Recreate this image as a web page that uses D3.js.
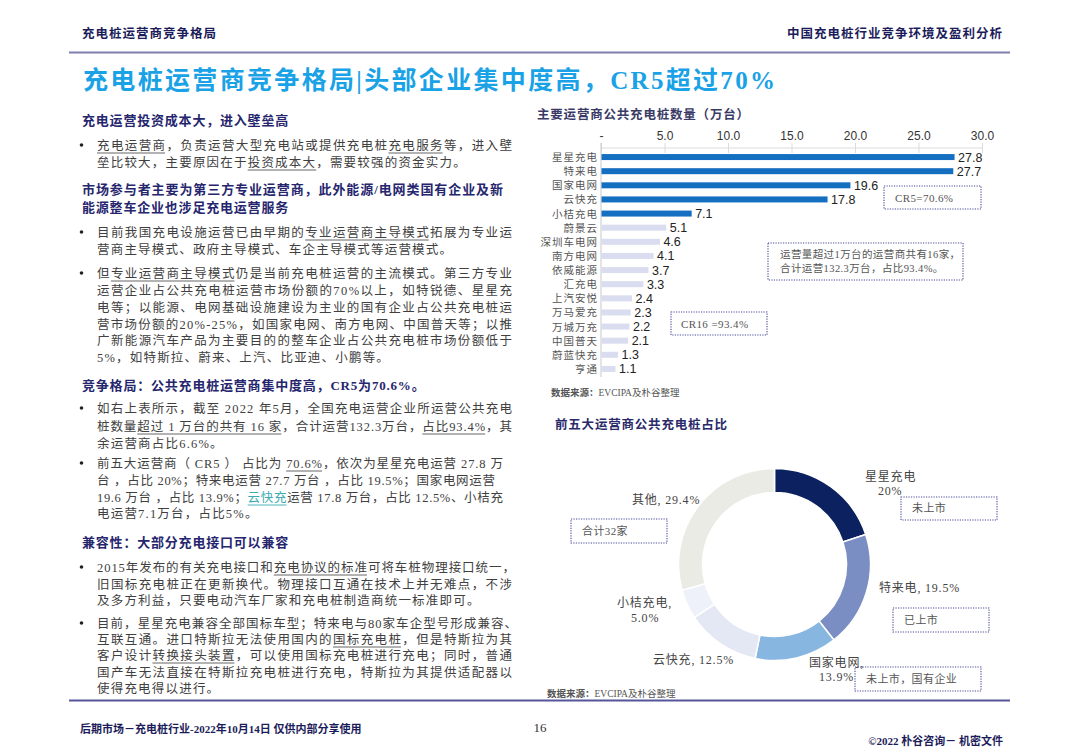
<!DOCTYPE html>
<html><head><meta charset="utf-8">
<script src="https://cdn.jsdelivr.net/npm/d3@7"></script>
<style>html,body{margin:0;padding:0;background:#fff}svg{display:block}</style>
</head><body>
<svg id="s" width="1080" height="748"></svg>
<script>
// ---------- data ----------
const categories = ["星星充电","特来电","国家电网","云快充","小桔充电","蔚景云","深圳车电网","南方电网","依威能源","汇充电","上汽安悦","万马爱充","万城万充","中国普天","蔚蓝快充","亨通"];
const values = [27.8,27.7,19.6,17.8,7.1,5.1,4.6,4.1,3.7,3.3,2.4,2.3,2.2,2.1,1.3,1.1];
const topCount = 5;
const xTicks = [0,5,10,15,20,25,30];
const xTickLabels = ["-","5.0","10.0","15.0","20.0","25.0","30.0"];
const pieNames = ["星星充电","特来电","国家电网","云快充","小桔充电","其他"];
const pieValues = [20,19.5,13.9,12.5,5.0,29.4];
const pieColors = ["#0b2160","#7b8ec3","#87b6e1","#e3e8f4","#eef1f9","#ebebe6"];

const SERIF = "'Liberation Serif','Noto Sans CJK SC',serif";
const CJK = "'Noto Sans CJK SC',sans-serif";
const SANS = "'Liberation Sans',Arial,sans-serif";
const NAVY = "#26266e";
const svg = d3.select("#s");

// ---------- header ----------
svg.append("text").attr("x",82).attr("y",38).text("充电桩运营商竞争格局")
  .attr("font-family",SERIF).attr("font-size",12.5).attr("font-weight","bold").attr("letter-spacing",1).attr("fill","#1c1c5a");
svg.append("text").attr("x",1003).attr("y",38).attr("text-anchor","end").text("中国充电桩行业竞争环境及盈利分析")
  .attr("font-family",SERIF).attr("font-size",12.5).attr("font-weight","bold").attr("letter-spacing",1).attr("fill","#1c1c5a");
svg.append("line").attr("x1",69).attr("x2",1010).attr("y1",52.5).attr("y2",52.5).attr("stroke","#7f80b0").attr("stroke-width",2);
svg.append("text").attr("x",83).attr("y",89).text("充电桩运营商竞争格局|头部企业集中度高，CR5超过70%")
  .attr("font-family",SERIF).attr("font-size",25).attr("font-weight","bold").attr("fill","#1aa2e6")
  .attr("textLength",692).attr("lengthAdjust","spacing");

// ---------- left text ----------
function drawLine(x, y, s, opt){
  const t = svg.append("text").attr("x",x).attr("y",y+4.5)
    .attr("font-family",SERIF).attr("font-size",opt.size||12.5)
    .attr("fill",opt.color||"#404040").attr("font-weight",opt.bold?"bold":"normal");
  if(opt.len){ t.attr("textLength",opt.len).attr("lengthAdjust","spacing"); }
  else t.attr("letter-spacing",opt.ls!=null?opt.ls:1.2);
  const re = /\[([^\]]+)\]|\{([^}]+)\}|([^\[\{]+)/g;
  let m, idx=0; const unds=[];
  while((m=re.exec(s))){
    const txt = m[1]||m[2]||m[3];
    const sp = t.append("tspan").text(txt);
    if(m[2]) sp.attr("fill","#3aabb0");
    if(m[1]||m[2]) unds.push({a:idx,b:idx+txt.length-1,c:m[2]?"#3aabb0":"#555"});
    idx += txt.length;
  }
  const node = t.node();
  unds.forEach(u=>{
    const e1 = node.getExtentOfChar(u.a), e2 = node.getExtentOfChar(u.b);
    svg.append("line").attr("x1",e1.x).attr("x2",e2.x+e2.width).attr("y1",y+8).attr("y2",y+8)
      .attr("stroke",u.c).attr("stroke-width",0.9);
  });
}
function heading(y, s, len){ drawLine(82,y,s,{bold:true,color:NAVY,size:13,len:len,ls:0.8}); }
function bullet(lines){
  svg.append("circle").attr("cx",81.5).attr("cy",lines[0][0]).attr("r",1.8).attr("fill","#222");
  lines.forEach(l=>drawLine(97,l[0],l[1],{len:l[2]}));
}
const FL = 415;
heading(120,"充电运营投资成本大，进入壁垒高");
bullet([[145,"[充电运营商]，负责运营大型充电站或提供充电桩[充电服务]等，进入壁",FL],
        [162,"垒比较大，主要原因在于[投资成本大]，需要较强的资金实力。"]]);
heading(189,"市场参与者主要为第三方专业运营商，此外能源/电网类国有企业及新",421);
heading(207,"能源整车企业也涉足充电运营服务");
bullet([[232,"目前我国充电设施运营已由早期的[专业运营商主导模式]拓展为专业运",FL],
        [249,"营商主导模式、政府主导模式、车企主导模式等运营模式。"]]);
bullet([[273,"但[专业运营商主导模式]仍是当前充电桩运营的主流模式。第三方专业",FL],
        [290,"运营企业占公共充电桩运营市场份额的70%以上，如特锐德、星星充",FL],
        [307,"电等；以能源、电网基础设施建设为主业的国有企业占公共充电桩运",FL],
        [324,"营市场份额的20%-25%，如国家电网、南方电网、中国普天等；以推",FL],
        [340,"广新能源汽车产品为主要目的的整车企业占公共充电桩市场份额低于",FL],
        [357,"5%，如特斯拉、蔚来、上汽、比亚迪、小鹏等。"]]);
heading(385,"竞争格局：公共充电桩运营商集中度高，CR5为70.6%。",0);
bullet([[408,"如右上表所示，截至 2022 年5月，全国充电运营企业所运营公共充电",FL],
        [426,"桩数量[超过 1 万台的共有 16 家]，合计运营132.3万台，[占比93.4%]，其",FL],
        [443,"余运营商占比6.6%。"]]);
bullet([[463,"前五大运营商（ CR5 ） 占比为 [70.6%]，依次为星星充电运营 27.8 万",406],
        [480,"台 ，占比 20%；特来电运营 27.7 万台 ，占比 19.5%；国家电网运营",398],
        [497,"19.6 万台 ，占比 13.9%；{云快充}运营 17.8 万台，占比 12.5%、小桔充",406],
        [513,"电运营7.1万台，占比5%。"]]);
heading(542,"兼容性：大部分充电接口可以兼容");
bullet([[567,"2015年发布的有关充电接口和[充电协议的标准]可将车桩物理接口统一，",418],
        [584,"旧国标充电桩正在更新换代。物理接口互通在技术上并无难点，不涉",FL],
        [600,"及多方利益，只要电动汽车厂家和充电桩制造商统一标准即可。"]]);
bullet([[623,"目前，星星充电兼容全部国标车型；特来电与80家车企型号形成兼容、",420],
        [639,"互联互通。进口特斯拉无法使用国内的[国标充电桩]，但是特斯拉为其",FL],
        [655,"客户设计[转换接头装置]，可以使用国标充电桩进行充电；同时，普通",FL],
        [672,"国产车无法直接在特斯拉充电桩进行充电，特斯拉为其提供适配器以",FL],
        [688,"使得充电得以进行。"]]);

// ---------- footer ----------
svg.append("line").attr("x1",69).attr("x2",1010).attr("y1",700.5).attr("y2",700.5).attr("stroke","#55559a").attr("stroke-width",2);
svg.append("text").attr("x",80).attr("y",733).text("后期市场－充电桩行业-2022年10月14日 仅供内部分享使用")
  .attr("font-family",SERIF).attr("font-size",11).attr("font-weight","bold").attr("fill","#1c1c5a");
svg.append("text").attr("x",540).attr("y",732).attr("text-anchor","middle").text("16")
  .attr("font-family",SERIF).attr("font-size",13).attr("fill","#333");
svg.append("text").attr("x",1003).attr("y",745).attr("text-anchor","end").text("©2022 朴谷咨询－ 机密文件")
  .attr("font-family",SERIF).attr("font-size",11).attr("font-weight","bold").attr("fill","#1c1c5a");

// ---------- bar chart ----------
svg.append("text").attr("x",537).attr("y",119).text("主要运营商公共充电桩数量（万台）")
  .attr("font-family",SERIF).attr("font-size",12.5).attr("font-weight","bold").attr("letter-spacing",0.8).attr("fill","#3a3a66");
const xs = d3.scaleLinear().domain([0,30]).range([601,982]);
const ys = d3.scaleBand().domain(categories).range([150,376]).paddingInner(0.575).paddingOuter(0.2875);
svg.append("line").attr("x1",601).attr("x2",982).attr("y1",148).attr("y2",148).attr("stroke","#dcdcdc");
const ax = svg.append("g").attr("transform","translate(0,153)")
  .call(d3.axisTop(xs).tickValues(xTicks).tickFormat((d,i)=>xTickLabels[i]).tickSizeInner(10).tickSizeOuter(0).tickPadding(3));
ax.select(".domain").remove();
ax.selectAll(".tick line").attr("stroke","#dcdcdc");
ax.selectAll(".tick text").attr("font-family",SANS).attr("font-size",12).attr("fill","#333");
svg.append("line").attr("x1",601).attr("x2",601).attr("y1",143).attr("y2",377).attr("stroke","#c8c8c8");
const bw = ys.bandwidth();
svg.append("g").selectAll("rect").data(values).join("rect")
  .attr("x",xs(0)+0.5).attr("y",(d,i)=>ys(categories[i]))
  .attr("width",d=>xs(d)-xs(0)).attr("height",bw)
  .attr("fill",(d,i)=>i<topCount?"#156fc1":"#d9ddef");
svg.append("g").selectAll("text").data(values).join("text")
  .attr("x",d=>xs(d)+4).attr("y",(d,i)=>ys(categories[i])+bw/2+4.5)
  .text(d=>d.toFixed(1)).attr("font-family",SANS).attr("font-size",12.5).attr("fill","#222");
svg.append("g").selectAll("text").data(categories).join("text")
  .attr("x",598).attr("y",d=>ys(d)+bw/2+4).attr("text-anchor","end").text(d=>d)
  .attr("font-family",CJK).attr("font-size",10.5).attr("letter-spacing",1).attr("fill","#555");

function dotBox(x0,y0,x1,y1){
  svg.append("rect").attr("x",x0).attr("y",y0).attr("width",x1-x0).attr("height",y1-y0)
    .attr("fill","none").attr("stroke","#4a4a9a").attr("stroke-width",1.1).attr("stroke-dasharray","1.2,1.3");
}
function note(x,y,s,size){
  svg.append("text").attr("x",x).attr("y",y+4).text(s).attr("font-family",SERIF)
    .attr("font-size",size||11).attr("fill","#555").attr("letter-spacing",0.4);
}
dotBox(884,186,981,209); note(895,198,"CR5=70.6%");
dotBox(768,243,963,280); note(780,254,"运营量超过1万台的运营商共有16家，",10.5); note(780,268,"合计运营132.3万台，占比93.4%。",10.5);
dotBox(671,312,767,335); note(681,324,"CR16 =93.4%");
function source(x,y){
  const t=svg.append("text").attr("x",x).attr("y",y+3.5).attr("font-family",SERIF).attr("font-size",9.5).attr("fill","#555");
  t.append("tspan").text("数据来源：").attr("font-weight","bold");
  t.append("tspan").text("EVCIPA及朴谷整理");
}
source(551,392);

// ---------- donut ----------
svg.append("text").attr("x",555).attr("y",429).text("前五大运营商公共充电桩占比")
  .attr("font-family",SERIF).attr("font-size",12.5).attr("font-weight","bold").attr("letter-spacing",0.8).attr("fill","#2a2a6a");
const cx=774.5, cy=564.5;
const pie = d3.pie().sort(null).value(d=>d);
const arc = d3.arc().innerRadius(72).outerRadius(96);
svg.append("g").attr("transform",`translate(${cx},${cy})`).selectAll("path").data(pie(pieValues)).join("path")
  .attr("d",arc).attr("fill",(d,i)=>pieColors[i]).attr("stroke","#fff").attr("stroke-width",1.5);
function plab(x,y,s){
  svg.append("text").attr("x",x).attr("y",y+4).text(s).attr("font-family",SERIF)
    .attr("font-size",12).attr("fill","#444").attr("letter-spacing",0.8);
}
plab(865,477,pieNames[0]); plab(878,491,pieValues[0]+"%");
plab(879,588,pieNames[1]+", "+pieValues[1]+"%");
plab(809,663,pieNames[2]+","); plab(819,677,pieValues[2]+"%");
plab(653,660,pieNames[3]+", "+pieValues[3]+"%");
plab(617,603,pieNames[4]+","); plab(631,618,pieValues[4].toFixed(1)+"%");
plab(632,500,pieNames[5]+", "+pieValues[5]+"%");
dotBox(901,497,997,520); note(912,508,"未上市");
dotBox(893,608,989,632); note(904,620,"已上市");
dotBox(855,667,981,691); note(866,679,"未上市，国有企业");
dotBox(571,519,667,543); note(582,531,"合计32家");
source(547,693);
</script>
</body></html>
